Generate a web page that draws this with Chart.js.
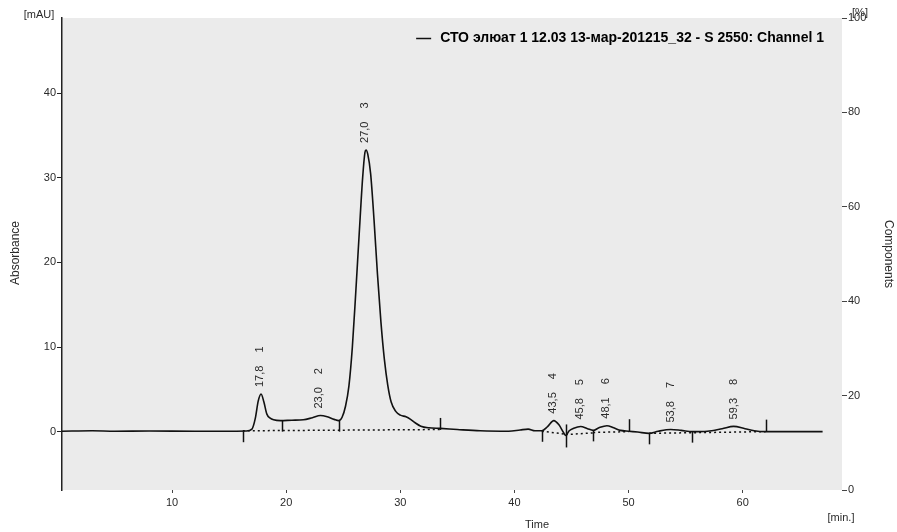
<!DOCTYPE html>
<html>
<head>
<meta charset="utf-8">
<script src="https://cdn.jsdelivr.net/npm/chart.js@4/dist/chart.umd.min.js"></script>
<style>
  html, body { margin: 0; padding: 0; background: #fff; }
  #wrap { width: 897px; height: 532px; }
</style>
</head>
<body>
<div id="wrap"><canvas id="chart"></canvas></div>
<script>
// chromatogram trace: time [min.] and absorbance [mAU]
const times = [0.36, 3, 5, 8, 12, 15, 16.5, 17.0, 17.3, 17.55, 17.8, 18.05, 18.3, 18.6, 18.9, 19.5, 20.5, 21.5, 22.3, 23.0, 23.6, 24.2, 24.6, 24.9, 25.2, 25.5, 25.8, 26.1, 26.4, 26.7, 26.9, 27.0, 27.15, 27.4, 27.7, 28.0, 28.3, 28.6, 28.9, 29.2, 29.6, 30.0, 30.5, 30.9, 31.3, 31.8, 32.5, 33.5, 35, 37, 39.5, 40.5, 41.2, 41.8, 42.4, 42.9, 43.45, 43.9, 44.3, 44.5, 44.8, 45.2, 45.8, 46.4, 46.9, 47.4, 48.1, 48.7, 49.3, 50.0, 50.8, 51.8, 52.6, 53.7, 54.6, 55.6, 56.9, 58.2, 59.2, 60.2, 61.0, 62.0, 64, 67.0];
const absorbance = [0.05, 0.1, 0.05, 0.08, 0.05, 0.05, 0.08, 0.3, 1.6, 3.6, 4.45, 3.5, 2.1, 1.6, 1.4, 1.3, 1.35, 1.4, 1.65, 1.9, 1.75, 1.45, 1.3, 1.7, 3.0, 5.4, 10.0, 16.5, 23.4, 30.0, 33.0, 33.3, 32.8, 30.5, 25.0, 18.6, 13.0, 8.6, 5.5, 3.5, 2.4, 1.95, 1.75, 1.45, 1.05, 0.65, 0.45, 0.38, 0.25, 0.1, 0.05, 0.2, 0.3, 0.1, 0.1, 0.6, 1.3, 0.8, -0.1, -0.45, 0.1, 0.4, 0.6, 0.35, 0.15, 0.45, 0.7, 0.45, 0.15, 0.05, -0.05, -0.2, 0.05, 0.25, 0.15, 0.0, 0.05, 0.35, 0.62, 0.35, 0.1, 0.0, 0.0, 0.0];

// integration baselines (dotted): [start time, start value, end time, end value]
const baselines = [
  [16.2, 0.1, 33.5, 0.25],
  [42.4, 0.05, 44.5, -0.3],
  [44.5, -0.35, 46.9, -0.15],
  [46.9, -0.1, 50.0, 0.0],
  [51.8, -0.2, 62.0, 0.0]
];

// peak boundary markers
const boundaryTimes = [16.2, 19.6, 24.6, 33.5, 42.4, 44.5, 46.9, 50.0, 51.8, 55.6, 62.0];
const boundaryValues = [0.05, 1.3, 1.3, 0.2, 0.1, -0.45, 0.15, 0.05, -0.2, 0.0, 0.0];
const boundaryKinds = ["down", "down", "down", "up", "down", "both", "down", "up", "down", "down", "up"];

// peaks
const peakNumbers = [1, 2, 3, 4, 5, 6, 7, 8];
const peakTimes = [17.8, 23.0, 27.0, 43.5, 45.8, 48.1, 53.8, 59.3];
const peakHeights = [4.45, 1.9, 33.3, 1.3, 0.6, 0.7, 0.25, 0.62];
const peakLabels = ["17,8", "23,0", "27,0", "43,5", "45,8", "48,1", "53,8", "59,3"];

// axes
const xTicks = [10, 20, 30, 40, 50, 60];
const leftTicks = [0, 10, 20, 30, 40];
const rightTicks = [0, 20, 40, 60, 80, 100];

const seriesName = "СТО элюат 1 12.03 13-мар-201215_32 - S 2550: Channel 1";
const FONT = "'Liberation Sans', Arial, sans-serif";
const TXT = "#2a2a2a";

const datasets = [
  {
    label: seriesName,
    data: times.map((t, i) => ({ x: t, y: absorbance[i] })),
    borderColor: "#111",
    borderWidth: 1.6,
    pointRadius: 0,
    cubicInterpolationMode: "monotone",
    yAxisID: "y",
  },
];
baselines.forEach((b) => {
  datasets.push({
    label: "baseline",
    data: [{ x: b[0], y: b[1] }, { x: b[2], y: b[3] }],
    borderColor: "#111",
    borderWidth: 1.5,
    borderDash: [2, 3],
    pointRadius: 0,
    yAxisID: "y",
  });
});

const background = {
  id: "background",
  beforeDraw(chart) {
    const { ctx, chartArea: a } = chart;
    ctx.save();
    ctx.fillStyle = "#ebebeb";
    ctx.fillRect(a.left, a.top, a.right - a.left, a.bottom - a.top);
    ctx.restore();
  },
};

const annotations = {
  id: "annotations",
  afterDatasetsDraw(chart) {
    const { ctx, chartArea } = chart;
    const xs = chart.scales.x;
    const ys = chart.scales.y;
    ctx.save();
    // boundary ticks
    ctx.strokeStyle = "#111";
    ctx.lineWidth = 1.5;
    boundaryTimes.forEach((t, i) => {
      const px = Math.round(xs.getPixelForValue(t)) + 0.5;
      const py = ys.getPixelForValue(boundaryValues[i]);
      let y1 = py, y2 = py;
      if (boundaryKinds[i] === "down") y2 = py + 11;
      if (boundaryKinds[i] === "up") y1 = py - 12;
      if (boundaryKinds[i] === "both") { y1 = py - 11; y2 = py + 12; }
      ctx.beginPath();
      ctx.moveTo(px, y1);
      ctx.lineTo(px, y2);
      ctx.stroke();
    });
    // peak labels, rotated
    ctx.fillStyle = TXT;
    ctx.font = "11px " + FONT;
    ctx.textAlign = "left";
    ctx.textBaseline = "middle";
    peakTimes.forEach((t, i) => {
      const px = xs.getPixelForValue(t) - 1;
      const py = ys.getPixelForValue(peakHeights[i]) - 7;
      ctx.save();
      ctx.translate(px, py);
      ctx.rotate(-Math.PI / 2);
      ctx.fillText(peakLabels[i], 0, 0);
      const w = ctx.measureText(peakLabels[i]).width;
      ctx.fillText(String(peakNumbers[i]), w + 13, 0);
      ctx.restore();
    });
    // legend, top right inside the plot
    ctx.font = "bold 14px " + FONT;
    ctx.fillStyle = "#000";
    ctx.textAlign = "right";
    const tx = chartArea.right - 18;
    const ty = chartArea.top + 20;
    ctx.fillText(seriesName, tx, ty);
    const tw = ctx.measureText(seriesName).width;
    ctx.lineWidth = 1.5;
    ctx.strokeStyle = "#111";
    ctx.beginPath();
    ctx.moveTo(tx - tw - 24, ty + 0.5);
    ctx.lineTo(tx - tw - 9, ty + 0.5);
    ctx.stroke();
    ctx.restore();
  },
  afterDraw(chart) {
    const { ctx } = chart;
    ctx.save();
    ctx.fillStyle = TXT;
    ctx.font = "11px " + FONT;
    ctx.textAlign = "center";
    ctx.textBaseline = "middle";
    ctx.fillText("[mAU]", 39, 15);
    ctx.fillText("[%]", 860, 13);
    ctx.fillText("Time", 537, 525);
    ctx.fillText("[min.]", 841, 518);
    ctx.font = "12px " + FONT;
    ctx.save();
    ctx.translate(16, 253);
    ctx.rotate(-Math.PI / 2);
    ctx.fillText("Absorbance", 0, 0);
    ctx.restore();
    ctx.save();
    ctx.translate(888, 254);
    ctx.rotate(Math.PI / 2);
    ctx.fillText("Components", 0, 0);
    ctx.restore();
    ctx.restore();
  },
};

const config = {
  type: "line",
  data: { datasets: datasets },
  options: {
    responsive: true,
    maintainAspectRatio: false,
    animation: false,
    layout: { padding: { top: 18, left: 0, right: 0, bottom: 0 } },
    plugins: {
      legend: { display: false },
      tooltip: { enabled: false },
    },
    scales: {
      x: {
        type: "linear",
        min: 0.36,
        max: 68.7,
        afterBuildTicks: (s) => { s.ticks = xTicks.map((v) => ({ value: v })); },
        afterFit: (s) => { s.height = 42; },
        grid: { drawOnChartArea: false, tickLength: 3, color: "#444" },
        border: { display: false },
        ticks: { color: TXT, padding: 3, maxRotation: 0, font: { family: FONT, size: 11 } },
      },
      y: {
        position: "left",
        min: -6.9,
        max: 48.9,
        afterBuildTicks: (s) => { s.ticks = leftTicks.map((v) => ({ value: v })); },
        afterFit: (s) => { s.width = 62; },
        grid: { drawOnChartArea: false, tickLength: 5, color: "#222" },
        border: { display: true, color: "#222", width: 1.5 },
        ticks: { color: TXT, padding: 1, font: { family: FONT, size: 11 } },
      },
      y2: {
        position: "right",
        min: 0,
        max: 100,
        afterBuildTicks: (s) => { s.ticks = rightTicks.map((v) => ({ value: v })); },
        afterFit: (s) => { s.width = 55; },
        grid: { drawOnChartArea: false, tickLength: 5, color: "#444" },
        border: { display: false },
        ticks: { color: TXT, padding: 1, font: { family: FONT, size: 11 } },
      },
    },
  },
  plugins: [background, annotations],
};

const chart = new Chart(document.getElementById("chart"), config);
</script>
</body>
</html>
